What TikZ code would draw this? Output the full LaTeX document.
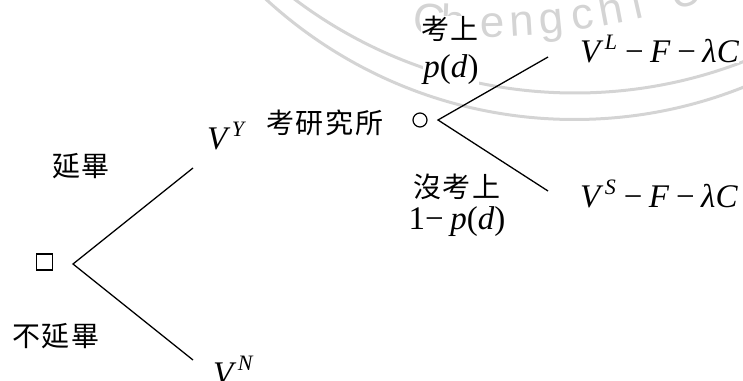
\documentclass[tikz,border=0pt]{standalone}
\usepackage{fontspec}
\setmainfont{Liberation Serif}
\newfontfamily\cjk[LetterSpace=7]{Noto Sans CJK TC}
\newfontfamily\wmfont{Liberation Sans}
\usetikzlibrary{positioning}
\definecolor{ink}{HTML}{000000}
\definecolor{wmgray}{HTML}{D4D4D4}
\newcommand{\supit}[1]{\hspace{0.04em}\raisebox{0.4em}{\fontsize{22}{22}\selectfont\textit{#1}}}
\newcommand{\payoff}[1]{\textit{V}\supit{#1}\hspace{0.24em}−\hspace{0.2em}\textit{F}\hspace{0.2em}−\hspace{0.2em}\textit{λC}}
\tikzset{
  decbox/.style={draw=ink,line width=1.4pt,minimum size=16pt,inner sep=0pt},
  chance/.style={draw=ink,line width=1.2pt,circle,minimum size=14pt,inner sep=0pt},
  branch/.style={draw=ink,line width=1.3pt},
  zhlabel/.style={fill=white,inner sep=0pt,font=\cjk\fontsize{28}{32}\selectfont},
  payoff/.style={fill=white,inner sep=0pt,font=\fontsize{33}{38}\selectfont},
  wmline/.style={draw=wmgray,line width=3pt},
  wmtext/.style={text=wmgray,inner sep=0pt,anchor=base,
                 font=\wmfont\fontsize{44}{44}\selectfont}
}

\begin{document}
\begin{tikzpicture}[x=1pt,y=1pt]
  \useasboundingbox (0,0) rectangle (743,380);
  % watermark
  \begin{scope}
    \clip (0,0) rectangle (743,380);
    \coordinate (wmup) at (575,753);
    \coordinate (wmlow) at (574.5,716.5);
    \coordinate (wm) at (480,1061);
    \draw[wmline] (wmup) ++(180:466) arc[start angle=180,end angle=360,radius=466];
    \draw[wmline] (wmlow) ++(180:456) arc[start angle=180,end angle=360,radius=456];
    \foreach \ang/\ch in {-4.1/C,-2.2/h,1.0/e,3.4/n,5.8/g,8.4/c,10.7/h,12.9/i,17.0/U}
      \path (wm) ++(\ang-90:718) node[wmtext,rotate=\ang] {\ch};
  \end{scope}

  % first decision
  \node[decbox] (sq) at (44.5,118) {};
  \coordinate (dv) at (73,116);
  \coordinate (yend) at (193,212);
  \coordinate (nend) at (193,20);
  \draw[branch] (yend) -- (dv) -- (nend);
  \node[zhlabel] (yan) at (81,214) {延畢};
  \node[zhlabel] (buyan) at (56,44) {不延畢};
  \node[payoff,anchor=base west] (vy) at (207,230) {\textit{V}\supit{Y}};
  \node[payoff,anchor=base west] (vn) at (213,-4) {\textit{V}\supit{N}};

  % exam chance
  \node[zhlabel] (grad) at (325,257) {考研究所};
  \node[chance] (ch) at (420,260) {};
  \coordinate (cv) at (438,260);
  \coordinate (lend) at (548,323);
  \coordinate (send) at (548,189);
  \draw[branch] (lend) -- (cv) -- (send);
  \node[zhlabel] (pass) at (450,351) {考上};
  \node[payoff,anchor=base] (pd) at (451,302) {\textit{p}(\textit{d})};
  \node[payoff,anchor=base west] (vl) at (580,317) {\payoff{L}};
  \node[zhlabel] (fail) at (457,193) {沒考上};
  \node[payoff,anchor=base] (qd) at (457,150) {1−\hspace{0.2em}\textit{p}(\textit{d})};
  \node[payoff,anchor=base west] (vs) at (580,172) {\payoff{S}};
\end{tikzpicture}
\end{document}
